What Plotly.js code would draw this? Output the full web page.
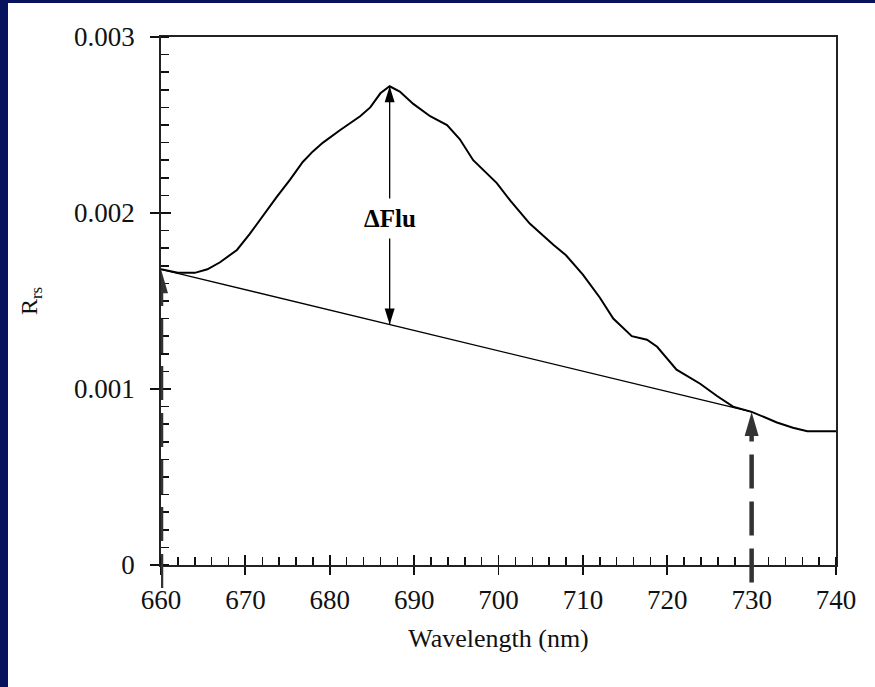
<!DOCTYPE html>
<html><head><meta charset="utf-8">
<script src="https://cdn.plot.ly/plotly-3.0.1.min.js"></script>
<style>
html,body{margin:0;padding:0;width:875px;height:687px;overflow:hidden;background:#07135c;}
#chart{position:absolute;left:8px;top:3px;width:867px;height:684px;}
</style></head><body>
<div id="chart"></div>
<script>
// ---- data ----
const wavelength = [660, 662, 664, 665.5, 667, 669, 670.5, 672, 673.7, 675.3, 676.8, 678, 679.2, 681.2, 683.6, 684.8, 686, 687.1,
  688.3, 689.9, 691.9, 693.9, 695.4, 697, 699.8, 701.4, 703.7, 706.5, 708, 710, 712, 713.6, 715.8, 717.6, 718.8,
  721.1, 723.9, 725.9, 727.8, 730, 733, 734.9, 736.6, 740];
const rrs = [0.00168, 0.00166, 0.00166, 0.00168, 0.00172, 0.00179, 0.00188, 0.00198, 0.00209, 0.00219, 0.00229, 0.00235, 0.00240, 0.00247, 0.00255, 0.00260, 0.00268, 0.00272,
  0.00269, 0.00262, 0.00255, 0.00250, 0.00242, 0.00230, 0.00217, 0.00207, 0.00194, 0.00182, 0.00176, 0.00165, 0.00152, 0.00140, 0.00130, 0.00128, 0.00124,
  0.00111, 0.00103, 0.00096, 0.00090, 0.00087, 0.00081, 0.00078, 0.00076, 0.00076];
const baselineX = [660, 730];
const baselineY = [0.00168, 0.00087];
const markerBottom = [-0.00013, -0.0001];
const yTickVals = [0, 0.001, 0.002, 0.003];
const yTickText = ['0', '0.001', '0.002', '0.003'];
const fluLabel = 'ΔFlu';
const xTitle = 'Wavelength (nm)';
const yTitle = 'R<sub>rs</sub>';

// ---- geometry ----
const W = 867, H = 684, M = {l: 153, r: 39, t: 34, b: 92};
const plotW = W - M.l - M.r, plotH = H - M.t - M.b;
const axisOffsetPx = 30;
const yDom0 = axisOffsetPx / plotH;
const xRange = [660, 740], yRange = [0, 0.003];
const pxPerNm = plotW / (xRange[1] - xRange[0]);
const pxPerUnit = (plotH - axisOffsetPx) / (yRange[1] - yRange[0]);
const arrowYmin = yRange[1] - plotH / pxPerUnit;

const FONT = 'Liberation Serif, Times New Roman, serif';

function head(x, yTip, dir, lenPx, halfPx, xa, ya, color) {
  const dy = dir * lenPx / pxPerUnit;
  const dx = halfPx / pxPerNm;
  return {x: [x - dx, x + dx, x, x - dx], y: [yTip - dy, yTip - dy, yTip, yTip - dy],
    type: 'scatter', mode: 'lines', fill: 'toself', fillcolor: color, line: {width: 0, color: color},
    xaxis: xa, yaxis: ya, hoverinfo: 'skip', showlegend: false};
}

let pk = 0;
rrs.forEach((v, i) => { if (v > rrs[pk]) pk = i; });
const peakX = wavelength[pk], peakY = rrs[pk];
const baseAtPeak = baselineY[0] + (peakX - baselineX[0]) / (baselineX[1] - baselineX[0]) * (baselineY[1] - baselineY[0]);

const traces = [
  {x: [xRange[0]], y: [yRange[0]], xaxis: 'x3', yaxis: 'y3', type: 'scatter', mode: 'markers', marker: {opacity: 0}, hoverinfo: 'skip', showlegend: false},
  {x: wavelength, y: rrs, type: 'scatter', mode: 'lines', line: {color: '#000', width: 2}, hoverinfo: 'skip', showlegend: false},
  {x: baselineX, y: baselineY, type: 'scatter', mode: 'lines', line: {color: '#000', width: 1.3}, hoverinfo: 'skip', showlegend: false},
  {x: [peakX, peakX], y: [baseAtPeak, peakY], type: 'scatter', mode: 'lines', line: {color: '#000', width: 1.3}, hoverinfo: 'skip', showlegend: false},
  head(peakX, peakY, 1, 16, 5, 'x', 'y', '#000'),
  head(peakX, baseAtPeak, -1, 16, 5, 'x', 'y', '#000')
];
const headLen = 24;
baselineX.forEach((bx, i) => {
  traces.push({x: [bx, bx], y: [markerBottom[i], baselineY[i] - (headLen - 2) / pxPerUnit], type: 'scatter', mode: 'lines',
    line: {color: '#333', width: 4.5, dash: '34px,13px'}, xaxis: 'x2', yaxis: 'y2', hoverinfo: 'skip', showlegend: false});
  traces.push(head(bx, baselineY[i], 1, headLen, 7, 'x2', 'y2', '#333'));
});

const tickFont = {family: FONT, size: 27, color: '#111'};
const layout = {
  width: W, height: H, margin: M,
  paper_bgcolor: '#fff', plot_bgcolor: 'rgba(0,0,0,0)',
  showlegend: false,
  xaxis: {range: xRange, domain: [0, 1], anchor: 'y', dtick: 10, tick0: 660, ticks: 'outside', ticklen: 8, tickwidth: 1.8, tickcolor: '#111',
    showline: true, linecolor: '#222', linewidth: 1.8, mirror: true, showgrid: false, zeroline: false, ticklabelstandoff: 2,
    minor: {dtick: 2, ticks: 'inside', ticklen: 8, tickwidth: 1.5, tickcolor: '#111', showgrid: false},
    tickfont: tickFont, title: {text: xTitle, font: {family: FONT, size: 26, color: '#111'}, standoff: 14}},
  yaxis: {range: yRange, domain: [yDom0, 1], anchor: 'x', tickvals: yTickVals, ticktext: yTickText, ticks: 'outside', ticklen: 9, tickwidth: 1.8, tickcolor: '#111',
    showline: true, linecolor: '#222', linewidth: 1.8, mirror: true, showgrid: false, zeroline: false, ticklabelstandoff: 10,
    minor: {dtick: 0.0001, tick0: 0, ticks: 'inside', ticklen: 8, tickwidth: 1.5, tickcolor: '#111', showgrid: false},
    tickfont: tickFont, title: {text: yTitle, font: {family: FONT, size: 24, color: '#111'}, standoff: 30}},
  xaxis3: {range: xRange, overlaying: 'x', anchor: 'y', dtick: 10, tick0: 660, ticks: 'inside', ticklen: 10, tickwidth: 1.8, tickcolor: '#111',
    showticklabels: false, showline: false, showgrid: false, zeroline: false},
  yaxis3: {range: yRange, overlaying: 'y', anchor: 'x', tickvals: yTickVals, ticks: 'inside', ticklen: 10, tickwidth: 1.8, tickcolor: '#111',
    showticklabels: false, showline: false, showgrid: false, zeroline: false},
  xaxis2: {range: xRange, domain: [0, 1], anchor: 'y2', visible: false, fixedrange: true},
  yaxis2: {range: [arrowYmin, yRange[1]], domain: [0, 1], anchor: 'x2', visible: false, fixedrange: true},
  annotations: [{x: peakX, y: 0.00197, xref: 'x', yref: 'y', text: '<b>' + fluLabel + '</b>', showarrow: false,
    font: {family: FONT, size: 25, color: '#000'}, bgcolor: '#fff', borderpad: 6}]
};
Plotly.newPlot('chart', traces, layout, {displayModeBar: false, staticPlot: true});
</script>
</body></html>
